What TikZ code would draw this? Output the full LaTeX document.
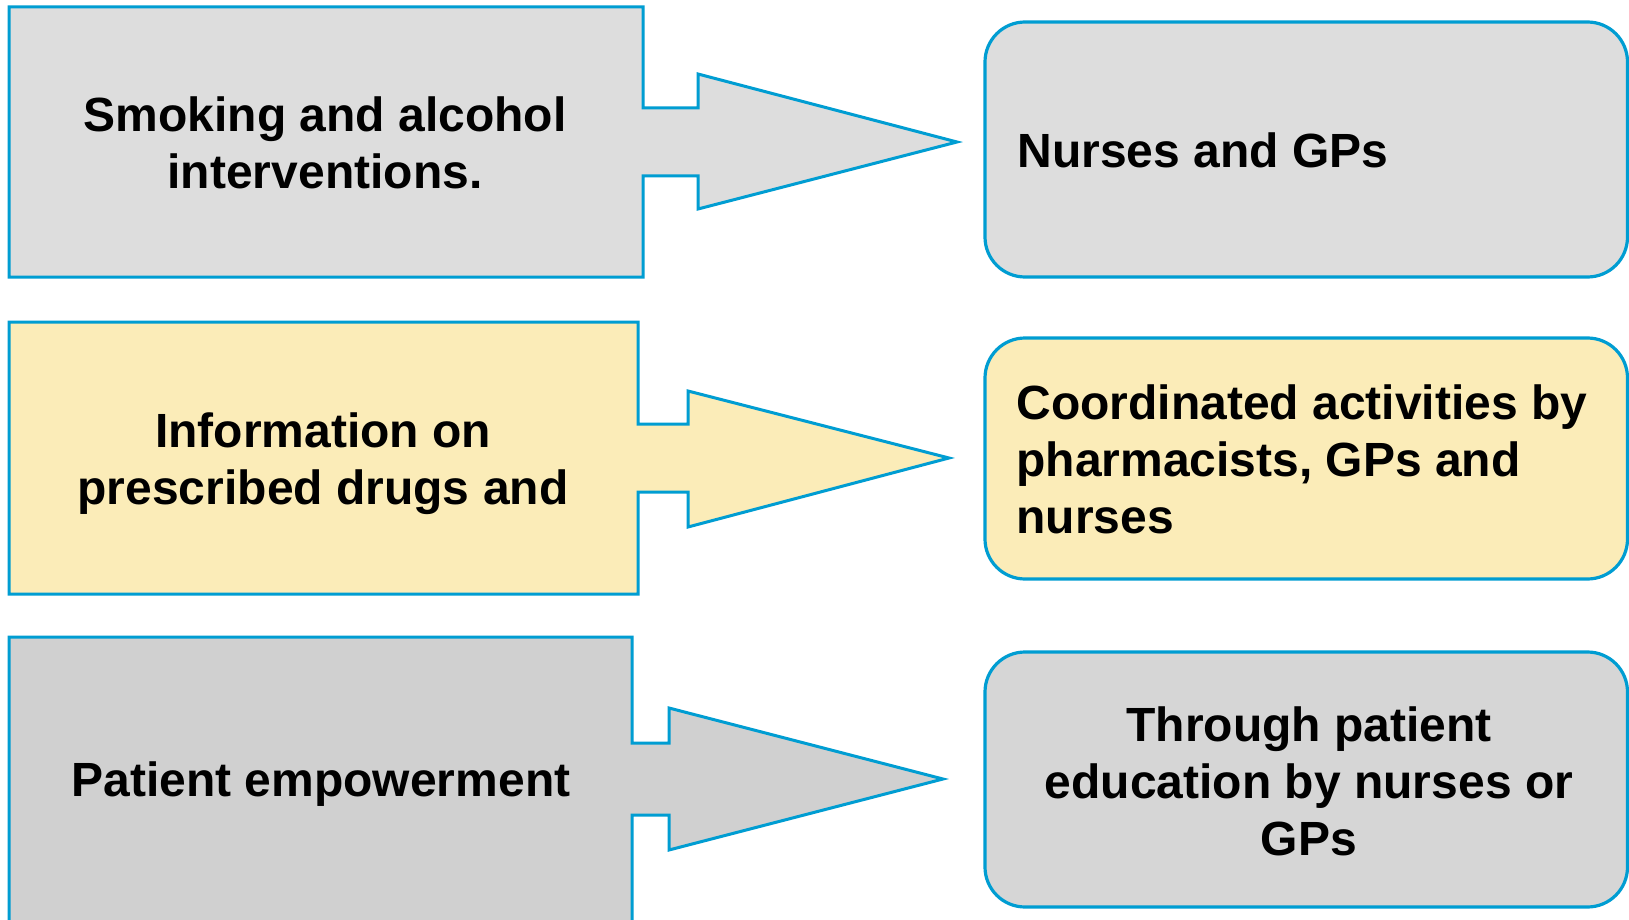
\documentclass[tikz,border=0pt]{standalone}
\usepackage{fontspec}
\setmainfont{Liberation Sans}
\usepackage{xcolor}
\usetikzlibrary{positioning}

\definecolor{edgeblue}{RGB}{0,157,210}
\definecolor{lightgrey}{RGB}{221,221,221}
\definecolor{paleyellow}{RGB}{251,236,184}
\definecolor{midgrey}{RGB}{208,208,208}
\definecolor{softgrey}{RGB}{214,214,214}

\begin{document}
\begin{tikzpicture}[x=0.5pt, y=-0.5pt,
        leftshape/.style={draw=edgeblue, line width=1.5pt, line join=miter},
        rightbox/.style={draw=edgeblue, line width=1.6pt, rounded corners=20pt},
        txt/.style={inner sep=0pt, font=\fontsize{24}{28.5}\selectfont\bfseries}]
        % Page frame (bottom box runs off the page)
        \clip (0,0) rectangle (1629,920);
        \fill[white] (0,0) rectangle (1629,920);

        % Row 1: smoking and alcohol
        \draw[leftshape, fill=lightgrey] (9,7) -- (643,7) -- (643,108) -- (698,108) -- (698,74)
            -- (957,142) -- (698,209) -- (698,176) -- (643,176) -- (643,277) -- (9,277) -- cycle;
        \draw[rightbox, fill=lightgrey] (985,22) rectangle (1627.5,277);
        \node[txt, align=center] (smoking) at (325,143) {Smoking and alcohol\\interventions.};
        \node[txt, anchor=west] (nurses) at (1017,150) {Nurses and GPs};

        % Row 2: prescribed drugs
        \draw[leftshape, fill=paleyellow] (9,322) -- (638,322) -- (638,424) -- (688,424) -- (688,391)
            -- (949,458) -- (688,527) -- (688,492) -- (638,492) -- (638,594) -- (9,594) -- cycle;
        \draw[rightbox, fill=paleyellow] (985,338) rectangle (1627.5,579);
        \node[txt, align=center] (drugs) at (323,464) {Information on\\prescribed drugs and};
        \node[txt, anchor=west, align=left] (coordinated) at (1016,459)
            {Coordinated activities by\\pharmacists, GPs and\\nurses};

        % Row 3: patient empowerment
        \draw[leftshape, fill=midgrey] (9,637) -- (632,637) -- (632,743) -- (669,743) -- (669,708)
            -- (943,779) -- (669,850) -- (669,815) -- (632,815) -- (632,940) -- (9,940) -- cycle;
        \draw[rightbox, fill=softgrey] (985,652) rectangle (1627.5,907);
        \node[txt] (empower) at (321,784) {Patient empowerment};
        \node[txt, align=center] (education) at (1309,781)
            {Through patient\\education by nurses or\\GPs};
\end{tikzpicture}
\end{document}
